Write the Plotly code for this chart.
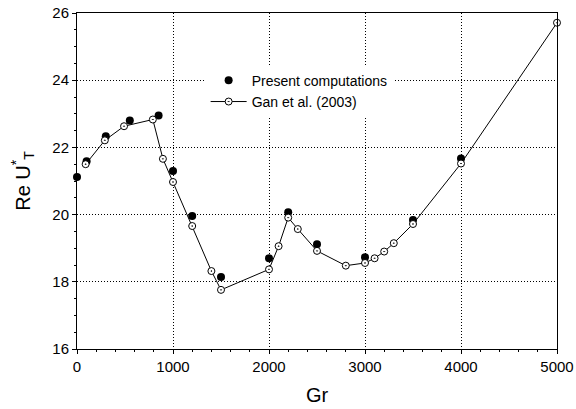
import plotly.graph_objects as go

# Present computations (filled circles)
present_gr = [0, 100, 300, 550, 850, 1000, 1200, 1500, 2000, 2200, 2500, 3000, 3500, 4000]
present_re = [21.12, 21.59, 22.33, 22.80, 22.95, 21.30, 19.96, 18.14, 18.70, 20.07, 19.12, 18.73, 19.84, 21.67]

# Gan et al. (2003) (open circles with dot, joined by line)
gan_gr = [90, 290, 490, 790, 895, 1000, 1200, 1400, 1500, 2000, 2100, 2200, 2300, 2500,
          2800, 3000, 3100, 3200, 3300, 3500, 4000, 5000]
gan_re = [21.50, 22.21, 22.63, 22.83, 21.66, 20.97, 19.66, 18.32, 17.76, 18.37, 19.06, 19.91,
          19.57, 18.92, 18.48, 18.56, 18.70, 18.90, 19.15, 19.72, 21.52, 25.71]

x_ticks = [0, 1000, 2000, 3000, 4000, 5000]
y_ticks = [16, 18, 20, 22, 24, 26]

FONT = "Liberation Sans, Arial, Helvetica, sans-serif"

fig = go.Figure()
fig.add_trace(go.Scatter(
    x=present_gr, y=present_re, mode="markers", name="Present computations",
    marker=dict(symbol="circle", size=8, color="black", line=dict(width=0)),
    cliponaxis=False,
))
fig.add_trace(go.Scatter(
    x=gan_gr, y=gan_re, mode="lines+markers", name="Gan et al. (2003)",
    line=dict(color="black", width=1),
    marker=dict(symbol="circle-dot", size=7, color="white", line=dict(color="black", width=1)),
    cliponaxis=False,
))

axis_common = dict(
    showline=True, linecolor="black", linewidth=1, mirror=True,
    ticks="outside", ticklen=4, tickwidth=1, tickcolor="black",
    showgrid=True, gridcolor="black", gridwidth=1, griddash="1px,2px",
    zeroline=False, automargin=False,
    tickfont=dict(family=FONT, size=15, color="black"),
)

fig.update_xaxes(
    range=[0, 5000], tickvals=x_ticks, ticktext=[str(v) for v in x_ticks],
    minor=dict(dtick=200, ticks="outside", ticklen=2, tickcolor="black", showgrid=False),
    title=dict(text="Gr", font=dict(family=FONT, size=20, color="black"), standoff=13),
    **axis_common,
)
fig.update_yaxes(
    range=[16, 26], tickvals=y_ticks, ticktext=[str(v) for v in y_ticks],
    minor=dict(dtick=0.5, ticks="outside", ticklen=2, tickcolor="black", showgrid=False),
    title=dict(text="Re U<sup>*</sup><sub>T</sub>", font=dict(family=FONT, size=20, color="black"), standoff=16),
    **axis_common,
)

fig.update_layout(
    width=576, height=409,
    margin=dict(l=77, r=19, t=13, b=60),
    paper_bgcolor="white", plot_bgcolor="white",
    font=dict(family=FONT, size=14, color="black"),
    showlegend=True,
    legend=dict(
        x=0.268, y=0.846, xanchor="left", yanchor="top",
        bgcolor="white", borderwidth=0,
        font=dict(family=FONT, size=14, color="black"),
        itemwidth=36, tracegroupgap=0,
    ),
)

fig.write_html("out.html")
